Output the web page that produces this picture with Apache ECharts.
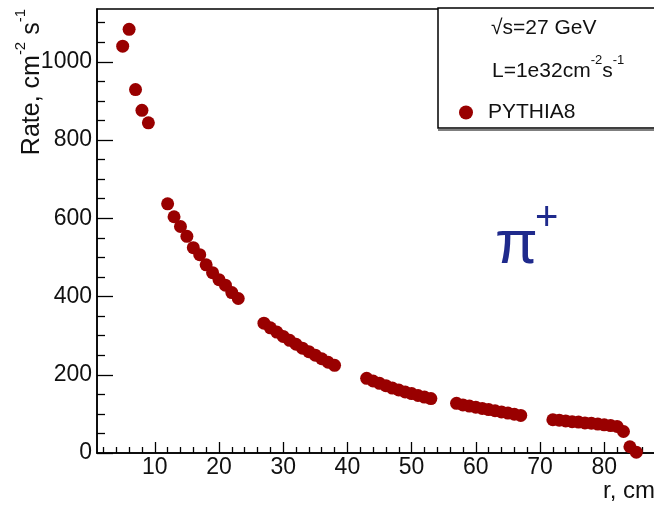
<!DOCTYPE html>
<html>
<head>
<meta charset="utf-8">
<script src="https://cdn.jsdelivr.net/npm/echarts@6/dist/echarts.min.js"></script>
<style>
html,body{margin:0;padding:0;background:#fff;}
#chart{width:654px;height:511px;}
</style>
</head>
<body>
<div id="chart"></div>
<script>
// Data
const radius = [5, 6, 7, 8, 9,
  12, 13, 14, 15, 16, 17, 18, 19, 20, 21, 22, 23,
  27, 28, 29, 30, 31, 32, 33, 34, 35, 36, 37, 38,
  43, 44, 45, 46, 47, 48, 49, 50, 51, 52, 53,
  57, 58, 59, 60, 61, 62, 63, 64, 65, 66, 67,
  72, 73, 74, 75, 76, 77, 78, 79, 80, 81, 82, 83, 84, 85];
const rate = [1040, 1083, 929, 876, 844,
  637, 604, 579, 554, 525, 507, 481, 461, 443, 429, 410, 395,
  332, 320, 309, 298, 288, 278, 268, 259, 250, 241, 232, 224,
  191, 184, 178, 172, 166, 161, 156, 152, 147, 143, 139,
  127, 123, 120, 117, 114, 111, 108, 105, 102, 99, 96,
  85, 84, 82, 80, 79, 77, 76, 74, 72, 70, 68, 55, 16, 2];
const xMajorTicks = [10, 20, 30, 40, 50, 60, 70, 80];
const xMinorTicks = [2, 4, 6, 8, 12, 14, 16, 18, 22, 24, 26, 28, 32, 34, 36, 38, 42, 44, 46, 48,
  52, 54, 56, 58, 62, 64, 66, 68, 72, 74, 76, 78, 82, 84, 86, 88];
const yMajorTicks = [0, 200, 400, 600, 800, 1000];
const yMinorTicks = [50, 100, 150, 250, 300, 350, 450, 500, 550, 650, 700, 750, 850, 900, 950, 1050, 1100];
const seriesName = 'PYTHIA8';

const FONT = 'Liberation Sans';
const chart = echarts.init(document.getElementById('chart'), null, {renderer: 'canvas'});
const points = radius.map((r, i) => [r, rate[i]]);

const gridBox = {left: 97, top: 9, width: 565, height: 444};

chart.setOption({
  animation: false,
  backgroundColor: '#fff',
  grid: Object.assign({show: true, borderColor: '#000', borderWidth: 1.5, backgroundColor: 'transparent',
    containLabel: false, outerBoundsMode: 'none'}, gridBox),
  xAxis: [{
    type: 'value', min: 1, max: 89, position: 'bottom',
    axisLine: {show: true, onZero: false, lineStyle: {color: '#000', width: 1.5}},
    axisTick: {show: true, inside: true, length: 11, customValues: xMajorTicks, lineStyle: {color: '#000', width: 1.3}},
    axisLabel: {show: true, customValues: xMajorTicks, margin: 3, color: '#111', fontSize: 23, fontFamily: FONT,
      formatter: v => String(v)},
    splitLine: {show: false}
  }, {
    type: 'value', min: 1, max: 89, position: 'bottom', gridIndex: 0,
    axisLine: {show: false, onZero: false},
    axisTick: {show: true, inside: true, length: 6, customValues: xMinorTicks, lineStyle: {color: '#000', width: 1.3}},
    axisLabel: {show: false},
    splitLine: {show: false}
  }],
  yAxis: [{
    type: 'value', min: 0, max: 1135, position: 'left',
    axisLine: {show: true, onZero: false, lineStyle: {color: '#000', width: 1.5}},
    axisTick: {show: true, inside: true, length: 16, customValues: yMajorTicks, lineStyle: {color: '#000', width: 1.3}},
    axisLabel: {show: true, customValues: yMajorTicks, margin: 5, color: '#111', fontSize: 23, fontFamily: FONT,
      formatter: v => String(v)},
    splitLine: {show: false}
  }, {
    type: 'value', min: 0, max: 1135, position: 'left',
    axisLine: {show: false, onZero: false},
    axisTick: {show: true, inside: true, length: 8, customValues: yMinorTicks, lineStyle: {color: '#000', width: 1.3}},
    axisLabel: {show: false},
    splitLine: {show: false}
  }],
  legend: {
    show: true, left: 459, top: 102, orient: 'vertical', padding: 0,
    itemWidth: 14, itemHeight: 14, icon: 'circle',
    textStyle: {fontSize: 21, fontFamily: FONT, color: '#111', padding: [0, 0, 0, 10]},
    data: [seriesName]
  },
  series: [{
    name: seriesName, type: 'scatter', xAxisIndex: 0, yAxisIndex: 0,
    symbol: 'circle', symbolSize: 13,
    itemStyle: {color: '#990000', opacity: 1},
    data: points, z: 5
  }],
  graphic: [
    {type: 'rect', shape: {x: 438, y: 8, width: 240, height: 120}, style: {fill: '#fff', stroke: '#000', lineWidth: 1.5}, z: 1},
    {type: 'line', shape: {x1: 438, y1: 130, x2: 680, y2: 130}, style: {stroke: '#000', lineWidth: 1.2}, z: 1},
    {type: 'text', x: 491, y: 28, z: 10, style: {text: '√s=27 GeV', fontSize: 21, fontFamily: FONT, fill: '#111', verticalAlign: 'middle', align: 'left'}},
    {type: 'text', x: 492, y: 68, z: 10, style: {
      text: '{n|L=1e32cm}{s|-2}{n|s}{s|-1}', verticalAlign: 'middle', align: 'left',
      rich: {
        n: {fontSize: 21, fontFamily: FONT, fill: '#111', lineHeight: 28, verticalAlign: 'bottom'},
        s: {fontSize: 13, fontFamily: FONT, fill: '#111', lineHeight: 28, verticalAlign: 'top'}
      }}},
    {type: 'text', x: 29, y: 9, rotation: Math.PI / 2, z: 10, style: {
      text: '{n|Rate, cm}{s|-2}{n| s}{s|-1}', verticalAlign: 'middle', align: 'right',
      rich: {
        n: {fontSize: 25, fontFamily: FONT, fill: '#111', lineHeight: 32, verticalAlign: 'bottom'},
        s: {fontSize: 15, fontFamily: FONT, fill: '#111', lineHeight: 32, verticalAlign: 'top'}
      }}},
    {type: 'text', x: 603, y: 491, z: 10, style: {text: 'r, cm', fontSize: 24, fontFamily: FONT, fill: '#111', verticalAlign: 'middle', align: 'left'}},
    {type: 'text', x: 495, y: 246, z: 10, style: {text: 'π', fontSize: 62, fontFamily: FONT, fill: '#1f2a8c', verticalAlign: 'middle', align: 'left'}},
    {type: 'text', x: 535, y: 219, z: 10, style: {text: '+', fontSize: 40, fontFamily: FONT, fill: '#1f2a8c', verticalAlign: 'middle', align: 'left'}}
  ]
});
</script>
</body>
</html>
